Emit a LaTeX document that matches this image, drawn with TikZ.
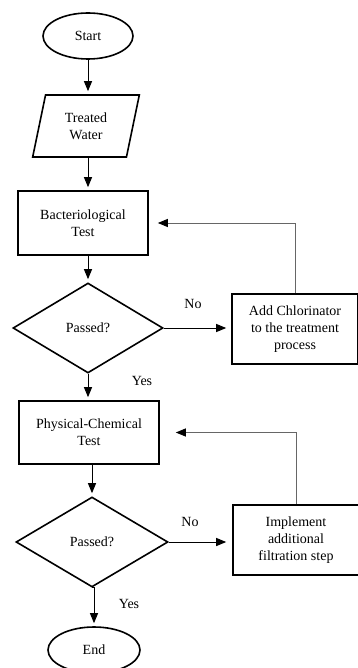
\documentclass[tikz,border=0pt]{standalone}
\usepackage{fontspec}
\setmainfont{Liberation Serif}
\usetikzlibrary{shapes.geometric, positioning, arrows.meta}

\begin{document}
\begin{tikzpicture}[x=1pt, y=-1pt,
          % Base node styles
          box/.style={rectangle, draw=black, line width=1.6pt, align=center, inner sep=0pt, font=\fontsize{14}{17}\selectfont},
          % Specific shapes of the flowchart
          terminal/.style={box, ellipse, minimum width=90pt, minimum height=46pt},
          iobox/.style={box, trapezium, trapezium left angle=76, trapezium right angle=104, trapezium stretches=true, minimum width=107pt, minimum height=62pt},
          procbox/.style={box, minimum height=64pt},
          decision/.style={box, diamond, minimum width=150pt, minimum height=90pt},
          lbl/.style={font=\fontsize{14}{17}\selectfont, inner sep=0pt},
          % Arrow styles
          flow/.style={-{Triangle[length=10pt,width=8pt]}, line width=1pt, draw=black, shorten >=3pt},
          loopback/.style={-{Triangle[length=10pt,width=8pt,color=black]}, line width=1pt, draw=black!60}
        ]
          \useasboundingbox (0,0) rectangle (357,668);
          % ==========================================
          % 1. Main column
          % ==========================================
          \node[terminal] (start) at (88,36) {Start};
          \node[iobox] (water) at (86,126) {Treated\\Water};
          \node[procbox, minimum width=130pt] (bact) at (83,223) {Bacteriological\\Test};
          \node[decision] (pass1) at (88,328) {Passed?};
          \node[procbox, minimum width=140pt, minimum height=63pt] (phys) at (89,432.5) {Physical-Chemical\\Test};
          \node[decision, minimum width=152pt] (pass2) at (92,542) {Passed?};
          \node[terminal, minimum width=92pt] (finish) at (94,650) {End};

          % ==========================================
          % 2. Corrective actions
          % ==========================================
          \node[procbox, minimum width=126pt, minimum height=70pt] (chlor) at (295,329) {Add Chlorinator\\to the treatment\\process};
          \node[procbox, minimum width=126pt, minimum height=70pt] (filter) at (296,540) {Implement\\additional\\filtration step};

          % ==========================================
          % 3. Edges & labels
          % ==========================================
          \draw[flow] (start.south) -- (start.south |- water.north);
          \draw[flow] (water.south -| start.south) -- (start.south |- bact.north);
          \draw[flow] (bact.south -| pass1.north) -- (pass1.north);
          \draw[flow] (pass1.south) -- (pass1.south |- phys.north);
          \draw[flow] (phys.south -| pass2.north) -- (pass2.north);
          \draw[flow] (pass2.south) -- (pass2.south -| finish.north) -- (finish.north);

          % No branches
          \draw[flow, shorten >=5pt] (pass1.east) -- (pass1.east -| chlor.west);
          \draw[flow, shorten >=6pt] (pass2.east) -- (pass2.east -| filter.west);
          \node[lbl] (no1) at (193,304) {No};
          \node[lbl] (no2) at (190,522) {No};
          \node[lbl] (yes1) at (142,381) {Yes};
          \node[lbl] (yes2) at (129,604) {Yes};

          % Loop back to the tests
          \draw[loopback, shorten >=9pt] (chlor.north) |- (bact.east);
          \draw[loopback, shorten >=16pt] (filter.north) |- (phys.east);
        \end{tikzpicture}
\end{document}
